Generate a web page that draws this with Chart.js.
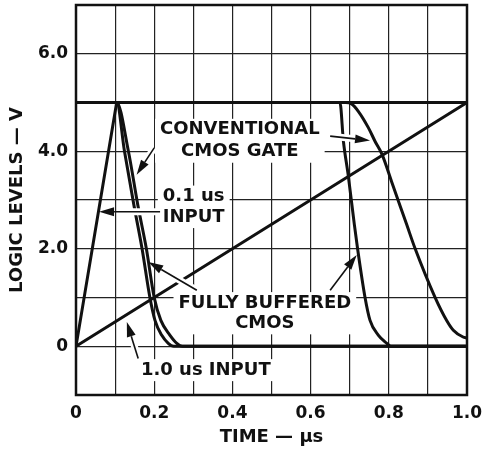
<!DOCTYPE html>
<html>
<head>
<meta charset="utf-8">
<script src="https://cdn.jsdelivr.net/npm/chart.js@4/dist/chart.umd.min.js"></script>
<style>
  html, body { margin: 0; padding: 0; background: #fff; }
  #chart { display: block; }
</style>
</head>
<body>
<canvas id="chart" width="482" height="451"></canvas>
<script>
// time in µs, logic level in volts
const inputSlowT = [0, 1.0];
const inputSlowV = [0, 5];

const inputFastT = [0, 0.104, 1.0];
const inputFastV = [0, 5, 5];

const bufferedFastT = [0, 0.104, 0.124, 0.148, 0.169, 0.189, 0.202, 0.219, 0.236, 0.25, 1.0];
const bufferedFastV = [5, 5, 4, 2.9, 2, 1, 0.53, 0.23, 0.06, 0, 0];

const conventionalFastT = [0, 0.104, 0.134, 0.158, 0.180, 0.200, 0.217, 0.240, 0.258, 0.272, 1.0];
const conventionalFastV = [5, 5, 4, 2.9, 2, 1, 0.53, 0.23, 0.06, 0, 0];

const bufferedSlowT = [0, 0.675, 0.684, 0.696, 0.712, 0.720, 0.739, 0.752, 0.773, 0.795, 0.805, 1.0];
const bufferedSlowV = [5, 5, 4.2, 3.52, 2.49, 2.01, 1.01, 0.53, 0.23, 0.06, 0, 0];

const conventionalSlowT = [0, 0.69, 0.705, 0.722, 0.748, 0.765, 0.783, 0.807, 0.846, 0.867, 0.918, 0.948, 0.965, 0.99, 1.0];
const conventionalSlowV = [5, 5, 4.97, 4.82, 4.48, 4.2, 3.93, 3.38, 2.49, 2.01, 1.01, 0.53, 0.33, 0.19, 0.17];

const xTickLabels = ['0', '0.2', '0.4', '0.6', '0.8', '1.0'];
const yTickLabels = ['0', '2.0', '4.0', '6.0'];

// callouts, placed in data units
const notes = [
  { lines: ['CONVENTIONAL', 'CMOS GATE'], t: 0.419, v: [4.44, 3.99], align: 'center' },
  { lines: ['0.1 us', 'INPUT'], t: 0.222, v: [3.07, 2.65], align: 'left' },
  { lines: ['FULLY BUFFERED', 'CMOS'], t: 0.483, v: [0.885, 0.47], align: 'center' },
  { lines: ['1.0 us INPUT'], t: 0.332, v: [-0.49], align: 'center' }
];

const arrows = [
  { from: [0.650, 4.31], to: [0.752, 4.22] },
  { from: [0.200, 4.07], to: [0.155, 3.52] },
  { from: [0.215, 2.76], to: [0.059, 2.76] },
  { from: [0.309, 1.15], to: [0.185, 1.73] },
  { from: [0.650, 1.15], to: [0.718, 1.87] },
  { from: [0.159, -0.25], to: [0.130, 0.50] }
];

const INK = '#111';
const FONT = '"DejaVu Sans", sans-serif';

const toPoints = (ts, vs) => ts.map((t, i) => ({ x: t, y: vs[i] }));

function trace(ts, vs, curved) {
  return {
    data: toPoints(ts, vs),
    borderColor: INK,
    borderWidth: 3,
    pointRadius: 0,
    fill: false,
    tension: 0,
    cubicInterpolationMode: curved ? 'monotone' : 'default',
    borderCapStyle: 'round',
    borderJoinStyle: 'round'
  };
}

const overlay = {
  id: 'overlay',
  beforeDatasetsDraw(chart) {
    const { ctx, scales: { x, y } } = chart;
    ctx.save();
    ctx.font = 'bold 18px ' + FONT;
    ctx.textBaseline = 'middle';
    notes.forEach(n => {
      const widths = n.lines.map(s => ctx.measureText(s).width);
      const w = Math.max(...widths);
      const px = x.getPixelForValue(n.t);
      const top = y.getPixelForValue(n.v[0]) - 11;
      const bottom = y.getPixelForValue(n.v[n.v.length - 1]) + 11;
      const left = n.align === 'left' ? px - 5 : px - w / 2 - 5;
      ctx.fillStyle = '#fff';
      ctx.fillRect(left, top, w + 10, bottom - top);
      ctx.fillStyle = INK;
      ctx.textAlign = n.align;
      n.lines.forEach((s, i) => ctx.fillText(s, px, y.getPixelForValue(n.v[i])));
    });
    ctx.restore();
  },
  afterDatasetsDraw(chart) {
    const { ctx, chartArea: a, scales: { x, y } } = chart;
    ctx.save();
    arrows.forEach(ar => {
      const x0 = x.getPixelForValue(ar.from[0]), y0 = y.getPixelForValue(ar.from[1]);
      const x1 = x.getPixelForValue(ar.to[0]), y1 = y.getPixelForValue(ar.to[1]);
      const len = Math.hypot(x1 - x0, y1 - y0);
      const ux = (x1 - x0) / len, uy = (y1 - y0) / len;
      const head = 15, half = 4.5;
      const bx = x1 - ux * head, by = y1 - uy * head;
      // white gap where the leader crosses a trace
      ctx.strokeStyle = '#fff';
      ctx.lineWidth = 7;
      ctx.beginPath();
      ctx.moveTo(x0, y0);
      ctx.lineTo(bx - ux * 3, by - uy * 3);
      ctx.stroke();
      ctx.strokeStyle = INK;
      ctx.lineWidth = 1.6;
      ctx.beginPath();
      ctx.moveTo(x0, y0);
      ctx.lineTo(bx, by);
      ctx.stroke();
      ctx.fillStyle = INK;
      ctx.beginPath();
      ctx.moveTo(x1, y1);
      ctx.lineTo(bx - uy * half, by + ux * half);
      ctx.lineTo(bx + uy * half, by - ux * half);
      ctx.closePath();
      ctx.fill();
    });
    ctx.strokeStyle = INK;
    ctx.lineWidth = 2.5;
    ctx.strokeRect(a.left, a.top, a.right - a.left, a.bottom - a.top);
    ctx.restore();
  }
};

new Chart(document.getElementById('chart'), {
  type: 'line',
  data: {
    datasets: [
      trace(inputSlowT, inputSlowV, false),
      trace(inputFastT, inputFastV, false),
      trace(bufferedFastT, bufferedFastV, true),
      trace(conventionalFastT, conventionalFastV, true),
      trace(bufferedSlowT, bufferedSlowV, true),
      trace(conventionalSlowT, conventionalSlowV, true)
    ]
  },
  options: {
    responsive: false,
    animation: false,
    layout: { padding: { left: 0, right: 15, top: 5, bottom: 0 } },
    plugins: {
      legend: { display: false },
      tooltip: { enabled: false }
    },
    scales: {
      x: {
        type: 'linear',
        min: 0,
        max: 1.0,
        afterFit: s => { s.height = 56; s.paddingLeft = 0; s.paddingRight = 0; },
        grid: { color: '#222', lineWidth: 1.2, drawTicks: false },
        border: { display: false },
        ticks: {
          stepSize: 0.1,
          autoSkip: false,
          maxRotation: 0,
          padding: 8,
          color: INK,
          font: { family: FONT, size: 17, weight: 'bold' },
          callback: (v, i) => (i % 2 === 0 ? xTickLabels[i / 2] : '')
        },
        title: {
          display: true,
          text: 'TIME — µs',
          color: INK,
          font: { family: FONT, size: 18, weight: 'bold' },
          padding: { top: 0, bottom: 3 }
        }
      },
      y: {
        min: -1,
        max: 7,
        afterFit: s => { s.width = 76; s.paddingTop = 0; s.paddingBottom = 0; },
        grid: { color: '#222', lineWidth: 1.2, drawTicks: false },
        border: { display: false },
        ticks: {
          stepSize: 1,
          padding: 8,
          color: INK,
          font: { family: FONT, size: 17, weight: 'bold' },
          callback: v => (v >= 0 && v % 2 === 0 ? yTickLabels[v / 2] : '')
        },
        title: {
          display: true,
          text: 'LOGIC LEVELS — V',
          color: INK,
          font: { family: FONT, size: 18, weight: 'bold' },
          padding: { top: 7, bottom: 0 }
        }
      }
    }
  },
  plugins: [overlay]
});
</script>
</body>
</html>
